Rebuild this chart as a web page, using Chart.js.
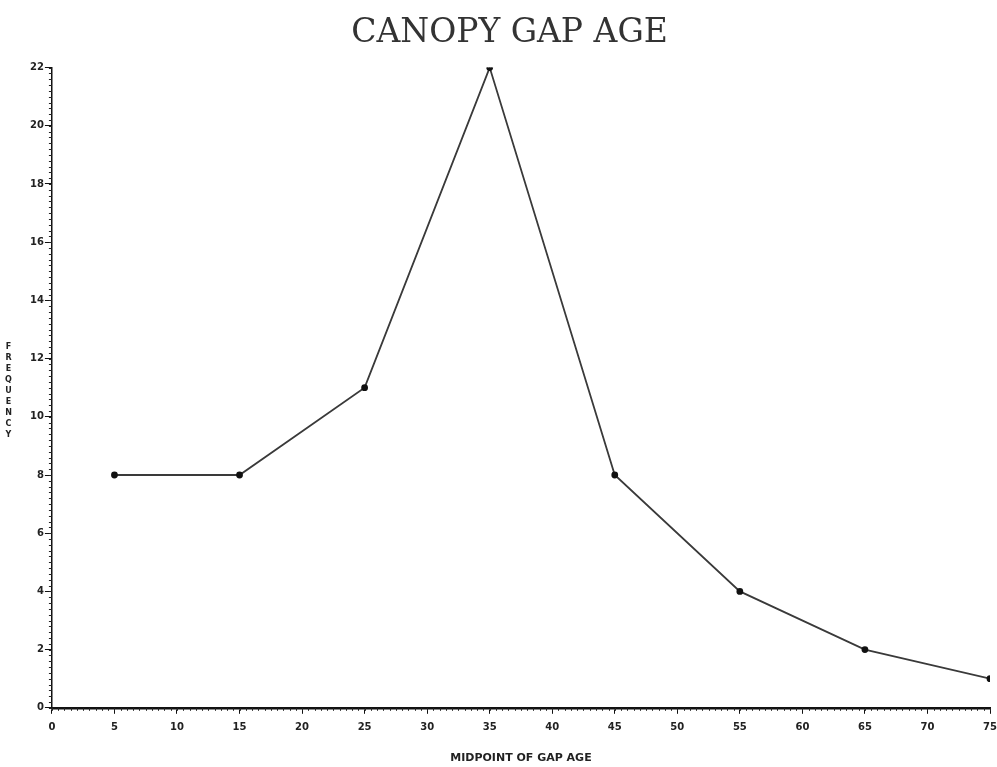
<!DOCTYPE html>
<html>
<head>
<meta charset="utf-8">
<script src="https://cdn.jsdelivr.net/npm/chart.js@4.4.1/dist/chart.umd.min.js"></script>
<style>
  html, body { margin: 0; padding: 0; background: #fff; }
  #wrap { position: relative; width: 997px; height: 767px; }
  #yTitle {
    position: absolute; left: 4px; top: 342px;
    writing-mode: vertical-lr; text-orientation: upright;
    font: bold 8px "DejaVu Sans", sans-serif; letter-spacing: 2px; color: #222;
  }
</style>
</head>
<body>
<div id="wrap">
  <canvas id="grafico" width="997" height="767"></canvas>
  <div id="yTitle">FREQUENCY</div>
</div>
<script>
const idades = [5, 15, 25, 35, 45, 55, 65, 75];
const frequencias = [8, 8, 11, 22, 8, 4, 2, 1];
const titulo = 'CANOPY GAP AGE';
const tituloX = 'MIDPOINT OF GAP AGE';

// desenha os traços menores dos eixos
const tracosMenores = {
  id: 'tracosMenores',
  afterDraw(chart) {
    const ctx = chart.ctx;
    const sx = chart.scales.x, sy = chart.scales.y;
    ctx.save();
    ctx.strokeStyle = '#222';
    ctx.lineWidth = 1;
    ctx.beginPath();
    for (let v = 0; v <= 75.001; v += 0.5) {
      const px = Math.round(sx.getPixelForValue(v)) + 0.5;
      ctx.moveTo(px, sy.bottom);
      ctx.lineTo(px, sy.bottom + 3);
    }
    for (let v = 0; v <= 22.001; v += 0.2) {
      const py = Math.round(sy.getPixelForValue(v)) + 0.5;
      ctx.moveTo(sx.left - 3, py);
      ctx.lineTo(sx.left, py);
    }
    ctx.stroke();
    ctx.restore();
  }
};

new Chart(document.getElementById('grafico').getContext('2d'), {
  type: 'line',
  data: {
    datasets: [{
      data: idades.map((x, i) => ({ x, y: frequencias[i] })),
      borderColor: '#3a3a3a',
      borderWidth: 1.8,
      pointRadius: 2.5,
      pointBackgroundColor: '#111',
      pointBorderColor: '#111',
      tension: 0
    }]
  },
  options: {
    responsive: false,
    animation: false,
    layout: { padding: { left: 29, right: 7, top: 4, bottom: 2 } },
    plugins: {
      legend: { display: false },
      tooltip: { enabled: false },
      title: {
        display: true,
        text: titulo,
        color: '#333',
        font: { family: '"DejaVu Serif", serif', size: 33, weight: 'normal' },
        padding: { top: 10, bottom: 14 }
      }
    },
    scales: {
      x: {
        type: 'linear',
        min: 0, max: 75,
        afterFit(scale) { scale.paddingRight = 0; },
        border: { color: '#111', width: 2.5 },
        grid: { drawOnChartArea: false, tickLength: 6, color: '#111', tickWidth: 1 },
        ticks: {
          stepSize: 5, color: '#222', padding: 8,
          font: { family: '"DejaVu Sans", sans-serif', size: 10, weight: 'bold' }
        },
        title: {
          display: true, text: tituloX, color: '#222',
          font: { family: '"DejaVu Sans", sans-serif', size: 11, weight: 'bold' },
          padding: { top: 10, bottom: 0 }
        }
      },
      y: {
        type: 'linear',
        min: 0, max: 22,
        border: { color: '#111', width: 1.5 },
        grid: { drawOnChartArea: false, tickLength: 7, color: '#111', tickWidth: 1 },
        ticks: {
          stepSize: 2, color: '#222', padding: 1,
          font: { family: '"DejaVu Sans", sans-serif', size: 10, weight: 'bold' }
        }
      }
    }
  },
  plugins: [tracosMenores]
});
</script>
</body>
</html>
